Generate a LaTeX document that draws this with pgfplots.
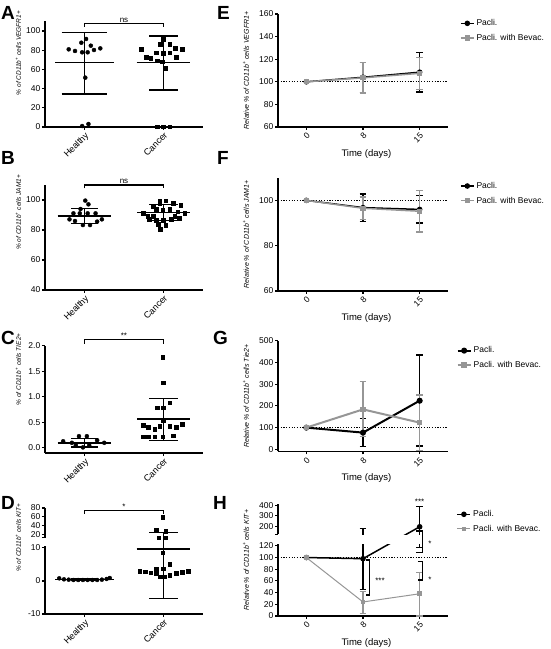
\documentclass[border=0pt]{standalone}
\usepackage{pgfplots}
\pgfplotsset{compat=1.18}
\usepackage{fontspec}
\setmainfont{Liberation Sans}
\definecolor{gpgray}{RGB}{150,150,150}

% error bar: x, lo, hi, half cap width, style
\newcommand{\ebar}[5]{%
  \pgfmathsetmacro\ebxa{#1-#4}\pgfmathsetmacro\ebxb{#1+#4}%
  \addplot[#5, forget plot] coordinates {(#1,#2) (#1,#3)};
  \addplot[#5, forget plot] coordinates {(\ebxa,#3) (\ebxb,#3)};
  \addplot[#5, forget plot] coordinates {(\ebxa,#2) (\ebxb,#2)};
}
% mean line: x, y, half width, style
\newcommand{\mline}[4]{%
  \pgfmathsetmacro\ebxa{#1-#3}\pgfmathsetmacro\ebxb{#1+#3}%
  \addplot[#4, forget plot] coordinates {(\ebxa,#2) (\ebxb,#2)};
}
\newcommand{\annfont}{\fontsize{8}{9}\selectfont}

\pgfplotsset{
  gp/.style={
    scale only axis, anchor=south west, clip=false,
    axis x line*=bottom, axis y line*=left,
    axis line style={line width=1.5pt},
    tick style={line width=1.1pt, black},
    tick align=outside, major tick length=3pt,
    yticklabel style={font=\fontsize{8.5}{9}\selectfont, inner sep=1.5pt},
    /pgf/number format/assume math mode=true,
    every axis y label/.style={rotate=90, anchor=center, font=\fontsize{7}{8}\selectfont\itshape},
  },
  lc/.style={gp, width=158pt, xmin=-0.5, xmax=1.5, xtick={0,1}, xticklabels={Healthy,Cancer},
    xticklabel style={rotate=45, anchor=north east, font=\fontsize{9}{10}\selectfont, inner sep=1pt},
    every axis y label/.append style={font=\fontsize{6.5}{7}\selectfont\itshape}},
  rc/.style={gp, width=170pt, xmin=-0.5, xmax=2.5, xtick={0,1,2}, xticklabels={0,8,15},
    xticklabel style={rotate=45, anchor=north east, font=\fontsize{8.5}{9}\selectfont, inner sep=1.5pt},
    xlabel={Time (days)},
    every axis x label/.style={at={(axis description cs:0.52,0)}, yshift=-27pt, anchor=center, font=\fontsize{9.5}{10}\selectfont},
    legend style={draw=none, fill=none, anchor=north west, font=\fontsize{8.5}{9}\selectfont, row sep=3pt, inner sep=0pt, outer sep=0pt},
    legend cell align=left,
    legend image code/.code={\draw[mark repeat=2,mark phase=2,##1] plot coordinates {(0pt,0pt) (6.5pt,0pt) (13pt,0pt)};},
  },
  eb/.style={black, line width=1.4pt},
  reb/.style={line width=1.2pt},
  dotline/.style={black, line width=1.2pt, dash pattern=on 1.2pt off 1.5pt, forget plot},
  hpts/.style={only marks, mark=*, mark size=2pt, black, forget plot},
  cpts/.style={only marks, mark=square*, mark size=1.8pt, black, forget plot},
}

\begin{document}
\begin{tikzpicture}[x=1pt,y=1pt]
\useasboundingbox (0,0) rectangle (550,649);

% ---------------- A ----------------
\begin{axis}[lc, at={(45pt,522pt)}, height=105.6pt, ymin=0, ymax=110,
  ytick={0,20,40,60,80,100}, yticklabels={0,20,40,60,80,100},
  ylabel={\% of CD11b\textsuperscript{+} cells VEGFR1+},
  ylabel style={at={(axis description cs:-0.168,0.70)}}]
\addplot[hpts] coordinates {(-0.20,80.9) (-0.12,79.2) (-0.03,77.8) (-0.04,87.8) (0.02,91.7) (0.04,77.8) (0.08,84.7) (0.12,80.2) (0.20,81.9) (0.01,51.4) (-0.03,1.0) (0.05,3.1)};
\addplot[cpts] coordinates {(0.72,80.9) (0.78,72.6) (0.84,71.5) (0.92,69.1) (0.98,68.1) (0.91,77.4) (1.0,76.7) (1.08,77.4) (0.96,86.1) (1.08,86.1) (1.0,91.3) (1.16,72.6) (1.24,80.9) (1.15,82) (1.03,61.1) (0.92,0.4) (1.0,0.4) (1.08,0.4)};
\ebar{0}{34.4}{98.3}{0.29}{eb}
\mline{0}{67}{0.37}{eb}
\ebar{1}{38.5}{94.8}{0.18}{eb}
\mline{1}{67}{0.34}{eb}
\addplot[black, line width=1.1pt, forget plot] coordinates {(0,104.5) (0,108) (1,108) (1,104.5)};
\node[font=\annfont, anchor=south, inner sep=1pt] at (axis cs:0.5,108) {ns};
\end{axis}

% ---------------- B ----------------
\begin{axis}[lc, at={(45pt,359pt)}, height=105pt, ymin=40, ymax=110,
  ytick={40,60,80,100}, yticklabels={40,60,80,100},
  ylabel={\% of CD11b\textsuperscript{+} cells JAM1+},
  ylabel style={at={(axis description cs:-0.168,0.74)}}]
\addplot[hpts] coordinates {(0.01,99.6) (0.05,97.1) (-0.05,94) (-0.14,91.1) (-0.06,91.1) (0.04,91.1) (0.14,91.1) (-0.19,87.1) (0.22,87.1) (-0.12,86) (-0.02,83.3) (0.07,83.3) (0.16,85.6)};
\addplot[cpts] coordinates {(0.74,91.1) (0.8,89.3) (0.87,95.6) (0.95,97.8) (1.03,99.6) (0.95,99.6) (1.12,97.8) (1.22,96.7) (0.91,93.8) (0.99,93.3) (1.08,93.8) (1.18,92.2) (1.27,91.1) (0.82,87.1) (0.91,86.7) (1.0,86.7) (1.1,87.1) (1.2,87.8) (0.93,83.8) (1.03,83.3) (0.96,80.7) (0.87,89.3) (1.14,89.3)};
\ebar{0}{84.4}{94.4}{0.17}{eb}
\mline{0}{89.3}{0.34}{eb}
\ebar{1}{86.2}{97.1}{0.18}{eb}
\mline{1}{91.6}{0.33}{eb}
\addplot[black, line width=1.1pt, forget plot] coordinates {(0,107.8) (0,110) (1,110) (1,107.8)};
\node[font=\annfont, anchor=south, inner sep=1pt] at (axis cs:0.5,110) {ns};
\end{axis}

% ---------------- C ----------------
\begin{axis}[lc, at={(45pt,196pt)}, height=107.1pt, ymin=-0.1, ymax=2.0,
  ytick={0,0.5,1,1.5,2}, yticklabels={0.0,0.5,1.0,1.5,2.0},
  ylabel={\% of CD11b\textsuperscript{+} cells TIE2+},
  ylabel style={at={(axis description cs:-0.168,0.78)}}]
\addplot[hpts] coordinates {(-0.27,0.13) (-0.16,0.10) (-0.07,0.23) (0.03,0.23) (-0.11,0.05) (-0.02,0.01) (0.06,0.05) (0.16,0.15) (0.25,0.10)};
\addplot[cpts] coordinates {(0.99,1.78) (1.0,1.28) (1.08,0.89) (0.92,0.79) (1.0,0.79) (0.74,0.45) (0.81,0.41) (0.89,0.37) (0.95,0.43) (1.0,0.53) (1.08,0.43) (1.16,0.41) (1.24,0.46) (0.74,0.22) (0.81,0.22) (0.89,0.22) (0.99,0.22) (1.12,0.24)};
\ebar{0}{0.02}{0.18}{0.17}{eb}
\mline{0}{0.10}{0.34}{eb}
\ebar{1}{0.15}{0.97}{0.18}{eb}
\mline{1}{0.57}{0.33}{eb}
\addplot[black, line width=1.1pt, forget plot] coordinates {(0,2.04) (0,2.12) (1,2.12) (1,2.04)};
\node[font=\annfont, anchor=south, inner sep=1pt] at (axis cs:0.5,2.12) {**};
\end{axis}

% ---------------- D (segmented y axis) ----------------
\begin{axis}[lc, at={(45pt,35pt)}, height=106pt, ymin=-10, ymax=80,
  y coord trafo/.code={\pgfmathparse{(#1<10.6) ? #1 : ((#1<12) ? 10.6+(#1-10.6)*1.736 : 13.03+(#1-12)*0.1333)}},
  y coord inv trafo/.code={\pgfmathparse{(#1<10.6) ? #1 : ((#1<13.03) ? 10.6+(#1-10.6)/1.736 : 12+(#1-13.03)/0.1333)}},
  ytick={-10,0,10,12,20,40,60,80}, yticklabels={-10,0,10,{},20,40,60,80},
  y axis line style={draw=none},
  ylabel={\% of CD11b\textsuperscript{+} cells KIT+},
  ylabel style={at={(axis description cs:-0.168,0.72)}}]
\addplot[black, line width=1.5pt, forget plot] coordinates {(-0.5,-10) (-0.5,10.6)};
\addplot[black, line width=1.5pt, forget plot] coordinates {(-0.5,12) (-0.5,80)};
\addplot[hpts] coordinates {(-0.32,0.8) (-0.26,0.5) (-0.2,0.4) (-0.14,0.3) (-0.08,0.3) (-0.02,0.3) (0.04,0.3) (0.1,0.3) (0.16,0.3) (0.22,0.4) (0.28,0.6) (0.32,0.9)};
\addplot[cpts] coordinates {(0.99,8.5) (1.08,5.0) (0.91,3.6) (1.0,3.7) (0.7,3.0) (0.77,2.8) (0.84,2.5) (0.91,2.2) (0.95,1.3) (1.01,1.3) (1.08,1.8) (1.16,2.3) (1.24,2.7) (1.31,3.0) (0.99,59.7) (0.91,29.5) (1.03,27.9) (0.94,12.7) (1.03,12.3)};
\ebar{0}{0.15}{0.65}{0.17}{eb}
\mline{0}{0.4}{0.37}{eb}
\ebar{1}{-5.3}{24.2}{0.18}{eb}
\mline{1}{9.7}{0.34}{eb}
\addplot[black, line width=1.1pt, forget plot] coordinates {(0,66.5) (0,75) (1,75) (1,66.5)};
\node[font=\annfont, anchor=south, inner sep=1pt] at (axis cs:0.5,75) {*};
\end{axis}

% ---------------- E ----------------
\begin{axis}[rc, at={(278pt,522pt)}, height=113pt, ymin=60, ymax=160,
  ytick={60,80,100,120,140,160}, yticklabels={60,80,100,120,140,160},
  ylabel={Relative \% of CD11b\textsuperscript{+} cells VEGFR1+},
  ylabel style={at={(axis description cs:-0.188,0.5)}},
  legend style={at={(axis description cs:1.071,0.969)}}]
\addplot[dotline] coordinates {(-0.5,100) (2.5,100)};
\ebar{1}{90.7}{117.3}{0.06}{reb, black}
\ebar{2}{91}{126}{0.06}{reb, black}
\ebar{1}{90}{117}{0.06}{reb, gpgray}
\ebar{2}{93.5}{121.5}{0.06}{reb, gpgray}
\addplot[black, line width=1.5pt, mark=*, mark size=2pt] coordinates {(0,100) (1,104) (2,108.5)};
\addlegendentry{Pacli.}
\addplot[gpgray, line width=1.5pt, mark=square*, mark size=1.8pt] coordinates {(0,100) (1,103.5) (2,107.5)};
\addlegendentry{Pacli. with Bevac.}
\end{axis}

% ---------------- F ----------------
\begin{axis}[rc, at={(278pt,358pt)}, height=113.3pt, ymin=60, ymax=110,
  ytick={60,80,100}, yticklabels={60,80,100},
  ylabel={Relative \% of CD11b\textsuperscript{+} cells JAM1+},
  ylabel style={at={(axis description cs:-0.188,0.5)}},
  legend style={at={(axis description cs:1.071,0.978)}}]
\addplot[dotline] coordinates {(-0.5,100) (2.5,100)};
\ebar{1}{90.8}{102.8}{0.06}{reb, black}
\ebar{2}{90}{102}{0.06}{reb, black}
\ebar{1}{91.5}{101.5}{0.06}{reb, gpgray}
\ebar{2}{86}{104.4}{0.06}{reb, gpgray}
\addplot[black, line width=1.5pt, mark=*, mark size=2pt] coordinates {(0,100) (1,96.8) (2,96)};
\addlegendentry{Pacli.}
\addplot[gpgray, line width=1.5pt, mark=square*, mark size=1.8pt] coordinates {(0,100) (1,96.5) (2,95.2)};
\addlegendentry{Pacli. with Bevac.}
\end{axis}

% ---------------- G ----------------
\begin{axis}[rc, at={(278pt,197.5pt)}, height=110.7pt, ymin=-10, ymax=500,
  ytick={0,100,200,300,400,500}, yticklabels={0,100,200,300,400,500},
  ylabel={Relative \% of CD11b\textsuperscript{+} cells Tie2+},
  ylabel style={at={(axis description cs:-0.188,0.5)}},
  legend style={at={(axis description cs:1.051,0.964)}}]
\addplot[dotline] coordinates {(-0.5,100) (2.5,100)};
\ebar{1}{13}{141}{0.06}{reb, black}
\ebar{2}{15}{435}{0.06}{reb, black}
\ebar{1}{58}{312}{0.06}{reb, gpgray}
\ebar{2}{-4}{250}{0.06}{reb, gpgray}
\addplot[black, line width=2pt, mark=*, mark size=2pt] coordinates {(0,100) (1,77) (2,224)};
\addlegendentry{Pacli.}
\addplot[gpgray, line width=2pt, mark=square*, mark size=1.8pt] coordinates {(0,100) (1,184) (2,123)};
\addlegendentry{Pacli. with Bevac.}
\end{axis}

% ---------------- H (segmented y axis) ----------------
\begin{axis}[rc, at={(278pt,33pt)}, height=112pt, ymin=0, ymax=410,
  y coord trafo/.code={\pgfmathparse{(#1<122.6) ? #1 : ((#1<130) ? 122.6+(#1-122.6)*2.297 : 139.6+(#1-130)*0.1855)}},
  y coord inv trafo/.code={\pgfmathparse{(#1<122.6) ? #1 : ((#1<139.6) ? 122.6+(#1-122.6)/2.297 : 130+(#1-139.6)/0.1855)}},
  ytick={0,20,40,60,80,100,120,130,200,300,400}, yticklabels={0,20,40,60,80,100,120,{},200,300,400},
  y axis line style={draw=none},
  ylabel={Relative \% of CD11b\textsuperscript{+} cells KIT+},
  ylabel style={at={(axis description cs:-0.188,0.5)}},
  legend style={at={(axis description cs:1.051,0.96)}}]
\addplot[black, line width=1.5pt, forget plot] coordinates {(-0.5,0) (-0.5,122.6)};
\addplot[black, line width=1.5pt, forget plot] coordinates {(-0.5,130) (-0.5,410)};
\addplot[dotline] coordinates {(-0.5,100) (2.5,100)};
\ebar{1}{46}{182}{0.06}{reb, black}
\ebar{2}{117}{385}{0.06}{reb, black}
\ebar{1}{4.6}{41.6}{0.06}{reb, gpgray}
\ebar{2}{0}{74}{0.06}{reb, gpgray}
\addplot[black, line width=1.5pt, mark=*, mark size=2pt] coordinates {(0,100) (1,98) (2,200)};
\addlegendentry{Pacli.}
\addplot[gpgray, line width=1pt, mark=square*, mark size=1.8pt] coordinates {(0,100) (1,24) (2,38)};
\addlegendentry{Pacli. with Bevac.}
\fill[white] (axis cs:-0.56,122.9) rectangle (axis cs:2.3,129.5);
\addplot[black, line width=1.1pt, forget plot] coordinates {(1.05,95.7) (1.12,95.7) (1.12,35.9) (1.05,35.9)};
\node[font=\annfont] at (axis cs:1.3,61) {***};
\addplot[black, line width=1.1pt, forget plot] coordinates {(1.94,161) (2.05,161) (2.05,108) (1.94,108)};
\node[font=\annfont] at (axis cs:2.18,123) {*};
\addplot[black, line width=1.1pt, forget plot] coordinates {(1.97,92.8) (2.05,92.8) (2.05,61.5) (1.97,61.5)};
\node[font=\annfont] at (axis cs:2.18,62) {*};
\node[font=\annfont, anchor=south, inner sep=1pt] at (axis cs:2,395) {***};
\end{axis}

% panel letters
\node[anchor=base west, inner sep=0pt, font=\fontsize{19}{19}\selectfont\bfseries] at (1,629) {A};
\node[anchor=base west, inner sep=0pt, font=\fontsize{19}{19}\selectfont\bfseries] at (1,484) {B};
\node[anchor=base west, inner sep=0pt, font=\fontsize{19}{19}\selectfont\bfseries] at (1,304) {C};
\node[anchor=base west, inner sep=0pt, font=\fontsize{19}{19}\selectfont\bfseries] at (1,139) {D};
\node[anchor=base west, inner sep=0pt, font=\fontsize{19}{19}\selectfont\bfseries] at (217,629) {E};
\node[anchor=base west, inner sep=0pt, font=\fontsize{19}{19}\selectfont\bfseries] at (217,484) {F};
\node[anchor=base west, inner sep=0pt, font=\fontsize{19}{19}\selectfont\bfseries] at (213,304) {G};
\node[anchor=base west, inner sep=0pt, font=\fontsize{19}{19}\selectfont\bfseries] at (213,139) {H};
\end{tikzpicture}
\end{document}
